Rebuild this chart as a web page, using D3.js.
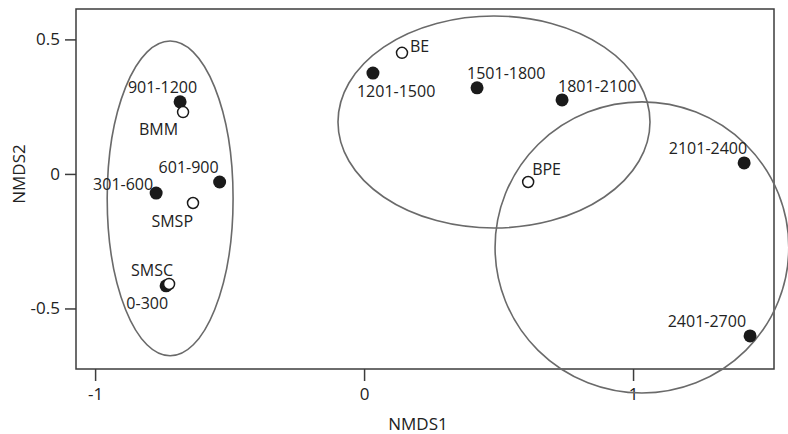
<!DOCTYPE html>
<html>
<head>
<meta charset="utf-8">
<script src="https://cdn.jsdelivr.net/npm/d3@7"></script>
<style>
  body { margin: 0; background: #fff; }
  svg { font-family: "Open Sans", sans-serif; }
</style>
</head>
<body>
<script>
// samples (filled) and reference sites (open)
let names   = ['901-1200','BMM','601-900','301-600','SMSP','SMSC','0-300','1201-1500','BE','1501-1800','1801-2100','BPE','2101-2400','2401-2700'];
let nmds1   = [-0.684,-0.673,-0.537,-0.773,-0.636,-0.725,-0.736,0.033,0.141,0.420,0.736,0.610,1.413,1.435];
let nmds2   = [0.268,0.230,-0.030,-0.071,-0.108,-0.409,-0.416,0.375,0.450,0.320,0.275,-0.030,0.041,-0.602];
let isOpen  = [false,true,false,false,true,true,false,false,true,false,false,true,false,false];

// grouping ellipses: centre and radii in NMDS units
let ellCx = [-0.721, 0.483, 1.033];
let ellCy = [-0.091, 0.193, -0.273];
let ellRx = [0.234, 0.580, 0.546];
let ellRy = [0.585, 0.394, 0.541];

let xTicks = [-1, 0, 1];
let yTicks = [-0.5, 0, 0.5];

// label placement (anchor, dx, dy from the point)
let labelPos = {
  '901-1200': ['end', 17, -9],
  'BMM': ['end', -5, 23],
  '601-900': ['end', -1, -9],
  '301-600': ['end', -3, -3],
  'SMSP': ['end', 0, 24],
  'SMSC': ['end', 4, -8],
  '0-300': ['end', 2, 23],
  '1201-1500': ['start', -16, 24],
  'BE': ['start', 8, -1],
  '1501-1800': ['start', -10, -9],
  '1801-2100': ['start', -4, -8],
  'BPE': ['start', 4, -7],
  '2101-2400': ['end', 3, -9],
  '2401-2700': ['end', -4, -9]
};

let w = 788, h = 434;
let pLeft = 76, pRight = 774, pTop = 9, pBottom = 369;

let svg = d3.select('body')
  .append('svg')
  .attr('width', w)
  .attr('height', h);

let x = d3.scaleLinear()
  .domain([-1.071, 1.524])
  .range([pLeft, pRight]);

let y = d3.scaleLinear()
  .domain([-0.725, 0.613])
  .range([pBottom, pTop]);

let fmt = d => d === 0 ? '0' : String(d);

let xAxis = svg.append('g')
  .attr('transform', `translate(0,${pBottom})`)
  .call(d3.axisBottom(x).tickValues(xTicks).tickFormat(fmt).tickSizeOuter(0).tickSize(12).tickPadding(7));

let yAxis = svg.append('g')
  .attr('transform', `translate(${pLeft},0)`)
  .call(d3.axisLeft(y).tickValues(yTicks).tickFormat(fmt).tickSizeOuter(0).tickSize(11).tickPadding(5));

[xAxis, yAxis].forEach(a => {
  a.select('.domain').remove();
  a.selectAll('line').attr('stroke', '#3c3c3c').attr('stroke-width', 1.5);
  a.selectAll('text').attr('fill', '#222').style('font-size', '17px').style('font-family', '"Open Sans", sans-serif');
});

// frame
svg.append('rect')
  .attr('x', pLeft)
  .attr('y', pTop)
  .attr('width', pRight - pLeft)
  .attr('height', pBottom - pTop)
  .attr('fill', 'none')
  .attr('stroke', '#3c3c3c')
  .attr('stroke-width', 1.5);

svg.append('text')
  .text('NMDS1')
  .attr('x', 418)
  .attr('y', 430)
  .attr('text-anchor', 'middle')
  .attr('fill', '#222')
  .style('font-size', '17px');

svg.append('text')
  .text('NMDS2')
  .attr('transform', 'translate(25,174) rotate(-90)')
  .attr('text-anchor', 'middle')
  .attr('fill', '#222')
  .style('font-size', '17px');

svg.selectAll('ellipse')
  .data(ellCx)
  .enter()
  .append('ellipse')
  .attr('cx', d => x(d))
  .attr('cy', (d, i) => y(ellCy[i]))
  .attr('rx', (d, i) => x(d + ellRx[i]) - x(d))
  .attr('ry', (d, i) => y(ellCy[i] - ellRy[i]) - y(ellCy[i]))
  .attr('fill', 'none')
  .attr('stroke', '#6a6a6a')
  .attr('stroke-width', 1.6);

let pts = names.map((n, i) => ({name: n, a: nmds1[i], b: nmds2[i], open: isOpen[i]}));

// filled first, open circles sit on top of them
let ordered = pts.filter(d => !d.open).concat(pts.filter(d => d.open));

svg.selectAll('circle.pt')
  .data(ordered)
  .enter()
  .append('circle')
  .attr('class', 'pt')
  .attr('cx', d => x(d.a))
  .attr('cy', d => y(d.b))
  .attr('r', d => d.open ? 5.5 : 6.5)
  .attr('fill', d => d.open ? '#fff' : '#1a1a1a')
  .attr('stroke', '#1a1a1a')
  .attr('stroke-width', d => d.open ? 1.5 : 0);

svg.selectAll('text.lab')
  .data(pts)
  .enter()
  .append('text')
  .attr('class', 'lab')
  .text(d => d.name)
  .attr('x', d => x(d.a) + labelPos[d.name][1])
  .attr('y', d => y(d.b) + labelPos[d.name][2])
  .attr('text-anchor', d => labelPos[d.name][0])
  .attr('fill', '#222')
  .style('font-size', '16px');
</script>
</body>
</html>
